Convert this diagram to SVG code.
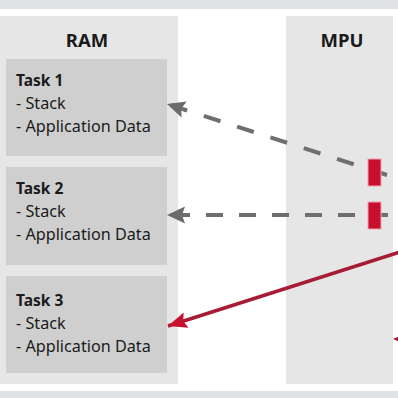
<svg xmlns="http://www.w3.org/2000/svg" width="398" height="398" viewBox="0 0 398 398">
  <style>
    .band { fill: #dfe1e3; }
    .panel { fill: #e6e6e6; }
    .task { fill: #cfcfcf; }
    .head { font-family: "Noto Sans", "Open Sans", sans-serif; font-weight: bold; font-size: 18.5px; fill: #1a1a1a; text-anchor: middle; }
    .title { font-family: "Noto Sans", "Open Sans", sans-serif; font-weight: bold; font-size: 15.5px; fill: #1a1a1a; }
    .item { font-family: "Noto Sans", "Open Sans", sans-serif; font-size: 16.2px; fill: #1a1a1a; }
    .dash { fill: none; stroke: #6e6e6e; stroke-width: 4; }
    .red { fill: none; stroke: #a81b35; stroke-width: 3.5; }
    .gate { fill: #c8102e; stroke: #f2a0ad; stroke-width: 1; }
  </style>
  <defs>
    <marker id="grayHead" markerUnits="userSpaceOnUse" markerWidth="19" markerHeight="19" viewBox="0 0 19 19" refX="18" refY="9.5" orient="auto">
      <path d="M0,1 L18,9.5 L0,18 L3,9.5 z" fill="#6b6b6b"/>
    </marker>
    <marker id="redHead" markerUnits="userSpaceOnUse" markerWidth="20" markerHeight="18" viewBox="0 0 20 18" refX="19" refY="9" orient="auto">
      <path d="M0,1 L19,9 L0,17 L3,9 z" fill="#c8102e"/>
    </marker>
  </defs>

  <rect width="398" height="398" fill="#ffffff"/>
  <rect class="band" x="0" y="0" width="398" height="9"/>
  <rect class="band" x="0" y="391" width="398" height="7"/>

  <g id="ram">
    <rect class="panel" x="0" y="16" width="178" height="368"/>
    <text class="head" x="87" y="47">RAM</text>
  </g>
  <g id="mpu">
    <rect class="panel" x="286" y="16" width="107" height="368"/>
    <text class="head" x="342" y="47">MPU</text>
  </g>

  <g id="task1">
    <rect class="task" x="6" y="59" width="161" height="97"/>
    <text class="title" x="16" y="86">Task 1</text>
    <text class="item" x="16" y="109">- Stack</text>
    <text class="item" x="16" y="132">- Application Data</text>
  </g>
  <g id="task2">
    <rect class="task" x="6" y="167" width="161" height="98"/>
    <text class="title" x="16" y="194">Task 2</text>
    <text class="item" x="16" y="217">- Stack</text>
    <text class="item" x="16" y="240">- Application Data</text>
  </g>
  <g id="task3">
    <rect class="task" x="6" y="276" width="161" height="97"/>
    <text class="title" x="16" y="306">Task 3</text>
    <text class="item" x="16" y="329">- Stack</text>
    <text class="item" x="16" y="352">- Application Data</text>
  </g>

  <g id="connectors">
    <path class="dash" d="M387,175 L167,104" stroke-dasharray="17.5 17.5" marker-end="url(#grayHead)"/>
    <path class="dash" d="M388,215 L167,215" stroke-dasharray="17 16" marker-end="url(#grayHead)"/>
    <path class="red" d="M400,252 L168,326" marker-end="url(#redHead)"/>
    <polygon points="393,339 406,333 406,345" fill="#b01632"/>
  </g>

  <g id="gates">
    <rect class="gate" x="368" y="159" width="13" height="27"/>
    <rect class="gate" x="368" y="202" width="13" height="27"/>
  </g>
</svg>
